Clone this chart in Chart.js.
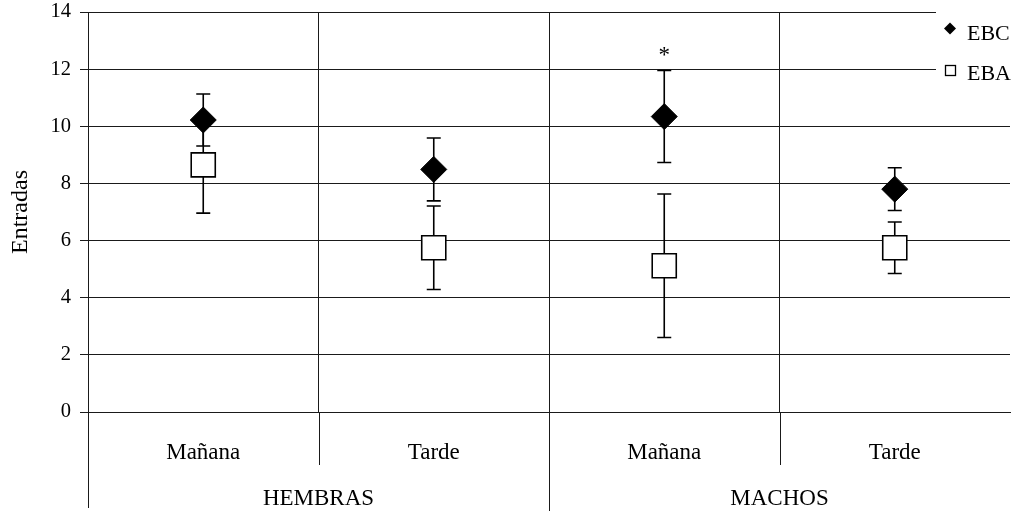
<!DOCTYPE html>
<html>
<head>
<meta charset="utf-8">
<script src="https://cdn.jsdelivr.net/npm/chart.js@4/dist/chart.umd.min.js"></script>
<style>
html,body{margin:0;padding:0;background:#fff;overflow:hidden;}
#wrap{width:1018px;height:511px;position:relative;}
</style>
</head>
<body>
<div id="wrap"><canvas id="c"></canvas></div>
<script>
const categories = ['Mañana', 'Tarde', 'Mañana', 'Tarde'];
const groups = ['HEMBRAS', 'MACHOS'];
const groupSpan = 2;
const seriesNames = ['EBC', 'EBA'];
const ebcValues = [10.22, 8.49, 10.34, 7.80];
const ebcErrors = [0.91, 1.10, 1.61, 0.75];
const ebaValues = [8.65, 5.75, 5.12, 5.75];
const ebaErrors = [1.69, 1.46, 2.51, 0.90];
const yTicks = [0, 2, 4, 6, 8, 10, 12, 14];
const significance = ['', '', '*', ''];

const FONT = '"Liberation Serif", "Times New Roman", serif';
const LINE = '#1a1a1a';

function noPad(s) {
  s.paddingTop = 0; s.paddingBottom = 0; s.paddingLeft = 0; s.paddingRight = 0;
}

const errorBars = {
  id: 'errorBars',
  beforeDatasetsDraw(chart) {
    const ctx = chart.ctx;
    const x = chart.scales.x, y = chart.scales.y;
    const sets = [[ebcValues, ebcErrors], [ebaValues, ebaErrors]];
    ctx.save();
    ctx.strokeStyle = '#000';
    ctx.lineWidth = 1.6;
    sets.forEach(([vals, errs]) => {
      vals.forEach((v, i) => {
        const px = x.getPixelForValue(i);
        const top = y.getPixelForValue(v + errs[i]);
        const bot = y.getPixelForValue(v - errs[i]);
        ctx.beginPath();
        ctx.moveTo(px, top); ctx.lineTo(px, bot);
        ctx.moveTo(px - 7, top); ctx.lineTo(px + 7, top);
        ctx.moveTo(px - 7, bot); ctx.lineTo(px + 7, bot);
        ctx.stroke();
      });
    });
    ctx.restore();
  },
  afterDatasetsDraw(chart) {
    const ctx = chart.ctx;
    const x = chart.scales.x, y = chart.scales.y;
    const area = chart.chartArea;
    ctx.save();
    // significance marks
    ctx.fillStyle = '#000';
    ctx.font = '23px ' + FONT;
    ctx.textAlign = 'center';
    ctx.textBaseline = 'alphabetic';
    significance.forEach((s, i) => {
      if (!s) return;
      const px = x.getPixelForValue(i);
      const top = y.getPixelForValue(ebcValues[i] + ebcErrors[i]);
      ctx.fillText(s, px, top - 9);
    });
    // lower axis lines and group labels
    ctx.strokeStyle = LINE;
    ctx.lineWidth = 1;
    const n = categories.length;
    for (let i = 0; i < n; i++) {
      const bx = Math.round(x.getPixelForValue(i - 0.5)) + 0.5;
      const isGroup = i % groupSpan === 0;
      ctx.beginPath();
      ctx.moveTo(bx, area.bottom);
      ctx.lineTo(bx, isGroup ? (i === 0 ? 508 : 511) : 465);
      ctx.stroke();
    }
    ctx.font = '23px ' + FONT;
    ctx.fillStyle = '#000';
    groups.forEach((g, gi) => {
      const a = x.getPixelForValue(gi * groupSpan - 0.5);
      const b = x.getPixelForValue(gi * groupSpan + groupSpan - 0.5);
      ctx.fillText(g, (a + b) / 2, 505);
    });
    // legend
    ctx.fillStyle = '#fff';
    ctx.fillRect(936, 0, 82, 92);
    ctx.fillStyle = '#000';
    ctx.beginPath();
    ctx.moveTo(950, 22.5); ctx.lineTo(956, 28.5); ctx.lineTo(950, 34.5); ctx.lineTo(944, 28.5);
    ctx.closePath(); ctx.fill();
    ctx.strokeStyle = '#000';
    ctx.lineWidth = 1.3;
    ctx.strokeRect(945.5, 65.5, 10, 10);
    ctx.textAlign = 'left';
    ctx.font = '22px ' + FONT;
    ctx.fillText(seriesNames[0], 967, 40);
    ctx.fillText(seriesNames[1], 967, 80);
    ctx.restore();
  }
};

new Chart(document.getElementById('c'), {
  type: 'line',
  data: {
    labels: categories,
    datasets: [
      {
        label: seriesNames[0], data: ebcValues, showLine: false,
        pointStyle: 'rectRot', pointRadius: 13, pointHoverRadius: 13,
        backgroundColor: '#000', borderColor: '#000', borderWidth: 1
      },
      {
        label: seriesNames[1], data: ebaValues, showLine: false,
        pointStyle: 'rect', pointRadius: 17, pointHoverRadius: 17,
        backgroundColor: '#fff', borderColor: '#000', borderWidth: 1.6
      }
    ]
  },
  options: {
    responsive: true,
    maintainAspectRatio: false,
    animation: false,
    events: [],
    layout: { autoPadding: false, padding: { top: 12, right: 8, left: 0, bottom: 0 } },
    plugins: { legend: { display: false }, tooltip: { enabled: false } },
    scales: {
      x: {
        type: 'category',
        offset: true,
        afterFit(s) { s.height = 99; noPad(s); },
        grid: {
          offset: true, drawTicks: false, lineWidth: 1,
          color: (c) => (c.type === 'tick' ? LINE : 'rgba(0,0,0,0)')
        },
        border: { display: true, color: LINE },
        ticks: { font: { family: FONT, size: 23 }, color: '#000', padding: 27, maxRotation: 0 }
      },
      y: {
        min: 0, max: 14,
        afterFit(s) { s.width = 88; noPad(s); },
        afterBuildTicks(s) { s.ticks = yTicks.map(v => ({ value: v })); },
        grid: { color: LINE, lineWidth: 1, drawTicks: true, tickLength: 8 },
        border: { display: true, color: LINE },
        ticks: { font: { family: FONT, size: 20.5 }, color: '#000', padding: 9 },
        title: { display: true, text: 'Entradas', font: { family: FONT, size: 24 }, color: '#000', padding: { top: 6, bottom: 0 } }
      }
    }
  },
  plugins: [errorBars]
});
</script>
</body>
</html>
